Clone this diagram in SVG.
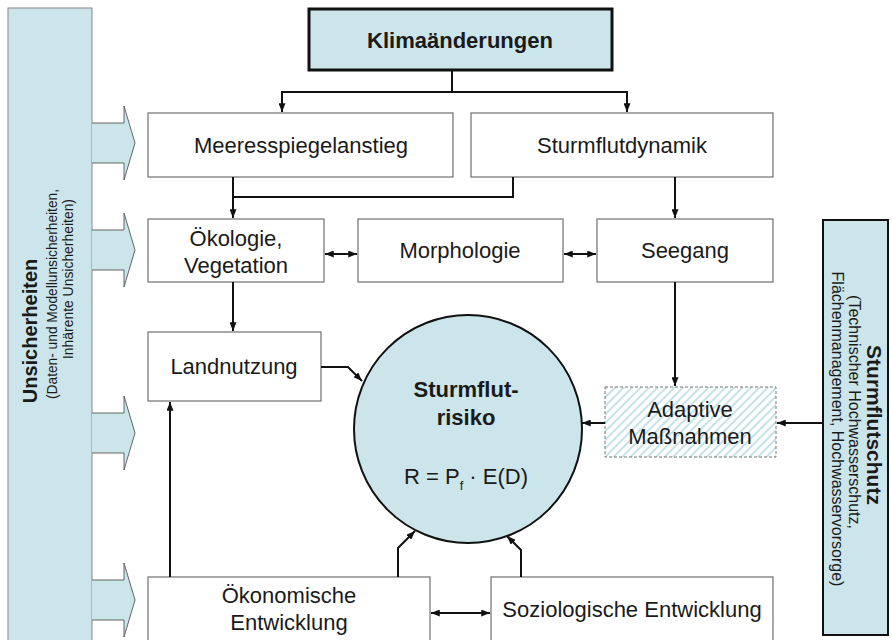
<svg xmlns="http://www.w3.org/2000/svg" width="892" height="640" viewBox="0 0 892 640">
<defs>
<style>
.box{fill:#fff;stroke:#707070;stroke-width:1.2}
.bl{fill:#cce5ea}
.t{font-family:"Liberation Sans",Arial,sans-serif;font-size:22px;fill:#1a1a1a;text-anchor:middle}
.b{font-weight:bold}
.lb{font-size:20px}
.rb{font-size:21px}
.ls{font-size:15px}
.rs{font-size:16px}
.c{fill:none;stroke:#111;stroke-width:2}
.ba{fill:#cce5ea;stroke:#555;stroke-width:0.9}
</style>
<marker id="ah" viewBox="0 0 10 8" refX="10" refY="4" markerWidth="9" markerHeight="7" orient="auto-start-reverse" markerUnits="userSpaceOnUse">
<path d="M0,0 L10,4 L0,8 z" fill="#111"/>
</marker>
<pattern id="hatch" width="6" height="6" patternUnits="userSpaceOnUse" patternTransform="rotate(45)">
<rect width="6" height="6" fill="#fff"/>
<line x1="1" y1="0" x2="1" y2="6" stroke="#b5dbe2" stroke-width="1.6"/>
</pattern>
</defs>
<rect width="892" height="640" fill="#fff"/>

<g id="unsicherheiten">
<rect class="bl" x="8" y="8" width="84" height="640" stroke="#888" stroke-width="1"/>
<path class="ba" d="M92,123 H124 V106 L135,143 L124,180 V163 H92"/>
<path class="ba" d="M92,230 H124 V213 L135,250 L124,287 V270 H92"/>
<path class="ba" d="M92,413 H124 V396 L135,433 L124,470 V453 H92"/>
<path class="ba" d="M92,580 H124 V563 L135,600 L124,637 V620 H92"/>
<text class="t b lb" transform="translate(37,331) rotate(-90)">Unsicherheiten</text>
<text class="t ls" transform="translate(57,294) rotate(-90)" textLength="210" lengthAdjust="spacingAndGlyphs">(Daten- und Modellunsicherheiten,</text>
<text class="t ls" transform="translate(73,279) rotate(-90)" textLength="160" lengthAdjust="spacingAndGlyphs">Inhärente Unsicherheiten)</text>
</g>

<g id="sturmflutschutz">
<rect class="bl" x="823" y="220" width="65" height="415" stroke="#111" stroke-width="2"/>
<text class="t b rb" transform="translate(867,425) rotate(90)">Sturmflutschutz</text>
<text class="t rs" transform="translate(849,412) rotate(90)">(Technischer Hochwasserschutz,</text>
<text class="t rs" transform="translate(832,429) rotate(90)">Flächenmanagement, Hochwasservorsorge)</text>
</g>

<g id="klimaaenderungen">
<rect class="bl" x="309" y="9" width="303" height="61" stroke="#111" stroke-width="3"/>
<text class="t b" x="460" y="48">Klimaänderungen</text>
</g>

<g id="meeresspiegelanstieg">
<rect class="box" x="148" y="113" width="305" height="64"/>
<text class="t" x="301" y="153">Meeresspiegelanstieg</text>
</g>

<g id="sturmflutdynamik">
<rect class="box" x="471" y="113" width="302" height="64"/>
<text class="t" x="622" y="153">Sturmflutdynamik</text>
</g>

<g id="oekologie">
<rect class="box" x="148" y="219" width="176" height="63"/>
<text class="t" x="236" y="246">Ökologie,</text>
<text class="t" x="236" y="273">Vegetation</text>
</g>

<g id="morphologie">
<rect class="box" x="358" y="219" width="205" height="63"/>
<text class="t" x="460" y="258">Morphologie</text>
</g>

<g id="seegang">
<rect class="box" x="597" y="219" width="176" height="63"/>
<text class="t" x="685" y="258">Seegang</text>
</g>

<g id="landnutzung">
<rect class="box" x="148" y="332" width="173" height="69"/>
<text class="t" x="234" y="374">Landnutzung</text>
</g>

<g id="sturmflutrisiko">
<circle cx="468" cy="429" r="114" fill="#cce5ea" stroke="#111" stroke-width="2"/>
<text class="t b" x="466" y="397">Sturmflut-</text>
<text class="t b" x="466" y="425">risiko</text>
<text class="t" x="466" y="484">R = P<tspan font-size="13" dy="6">f</tspan><tspan dy="-6"> · E(D)</tspan></text>
</g>

<g id="adaptive">
<rect x="605" y="387" width="171" height="70" fill="url(#hatch)" stroke="#777" stroke-width="1" stroke-dasharray="3,2"/>
<text class="t" x="690" y="417">Adaptive</text>
<text class="t" x="690" y="444">Maßnahmen</text>
</g>

<g id="oekonomische">
<rect class="box" x="148" y="577" width="282" height="70"/>
<text class="t" x="289" y="603">Ökonomische</text>
<text class="t" x="289" y="630">Entwicklung</text>
</g>

<g id="soziologische">
<rect class="box" x="491" y="577" width="282" height="70"/>
<text class="t" x="632" y="617">Soziologische Entwicklung</text>
</g>

<g id="connectors">
<path class="c" d="M452,70 V92"/>
<path class="c" d="M282,112 V92 H627 V112" marker-start="url(#ah)" marker-end="url(#ah)"/>
<path class="c" d="M233,177 V218" marker-end="url(#ah)"/>
<path class="c" d="M513,177 V197 H233"/>
<path class="c" d="M675,177 V218" marker-end="url(#ah)"/>
<path class="c" d="M325,254 H357" marker-start="url(#ah)" marker-end="url(#ah)"/>
<path class="c" d="M564,254 H596" marker-start="url(#ah)" marker-end="url(#ah)"/>
<path class="c" d="M233,282 V331" marker-end="url(#ah)"/>
<path class="c" d="M321,367 H348 L362,381" marker-end="url(#ah)"/>
<path class="c" d="M675,282 V386" marker-end="url(#ah)"/>
<path class="c" d="M822,423 H777" marker-end="url(#ah)"/>
<path class="c" d="M605,423 H582" marker-end="url(#ah)"/>
<path class="c" d="M170,577 V402" marker-end="url(#ah)"/>
<path class="c" d="M398,577 V548 L415,531" marker-end="url(#ah)"/>
<path class="c" d="M521,577 V550 L507,536" marker-end="url(#ah)"/>
<path class="c" d="M431,613 H490" marker-start="url(#ah)" marker-end="url(#ah)"/>
</g>
</svg>
